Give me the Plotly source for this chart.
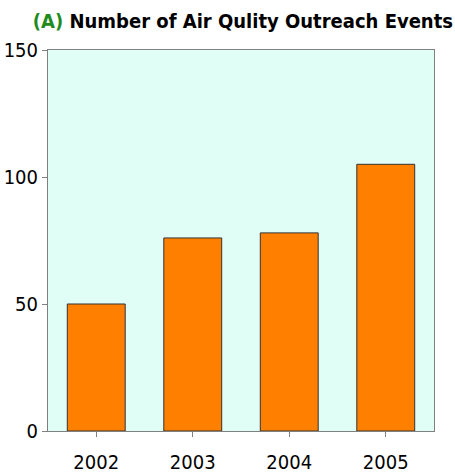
import plotly.graph_objects as go

years = ["2002", "2003", "2004", "2005"]
events = [50, 76, 78, 105]
y_ticks = [0, 50, 100, 150]

fig = go.Figure()
fig.add_trace(go.Bar(
    x=years, y=events,
    marker=dict(color="#FF8000", line=dict(color="#333333", width=1)),
    width=0.6,
))

narrow = "DejaVu Sans Condensed, Liberation Sans Narrow, sans-serif"

fig.update_layout(
    width=455, height=475,
    margin=dict(l=48, r=21, t=50, b=44),
    paper_bgcolor="white",
    plot_bgcolor="#E0FDF6",
    showlegend=False,
    title=dict(
        text="<span style='color:#1E8C1E'>(A)</span> Number of Air Qulity Outreach Events",
        x=453 / 455, xanchor="right", xref="container",
        y=0.97, yanchor="top", yref="container",
        font=dict(family=narrow, size=20, color="black", weight="bold"),
    ),
    xaxis=dict(
        type="category", automargin=False,
        showline=True, linecolor="#808080", linewidth=1, mirror=True,
        ticks="outside", ticklen=5, tickcolor="#808080",
        tickfont=dict(family=narrow, size=20, color="black"),
        ticklabelstandoff=8,
        showgrid=False,
    ),
    yaxis=dict(
        range=[0, 150], tickvals=y_ticks, automargin=False,
        showline=True, linecolor="#808080", linewidth=1, mirror=True,
        ticks="outside", ticklen=5, tickcolor="#808080",
        tickfont=dict(family=narrow, size=20, color="black"),
        showgrid=False, zeroline=False,
    ),
)

fig.write_html("out.html", config={"displayModeBar": False},
               post_script="document.body.style.margin='0';")
